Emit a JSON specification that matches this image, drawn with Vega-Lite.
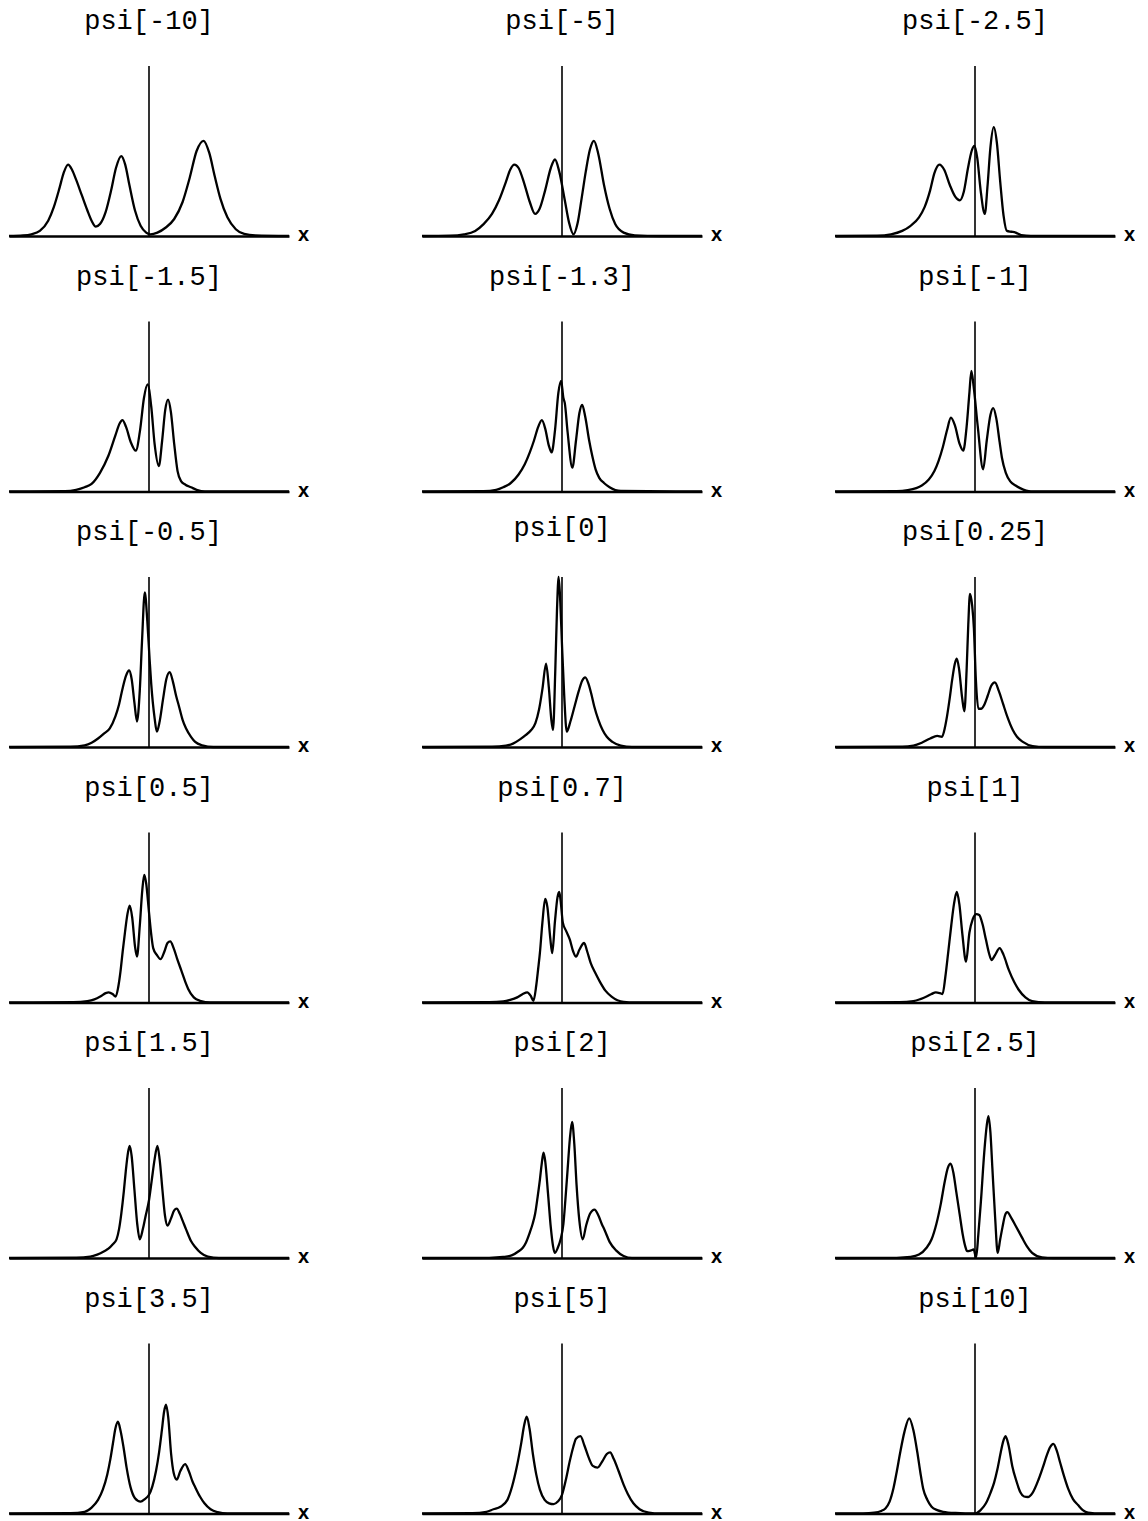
{
"$schema": "https://vega.github.io/schema/vega-lite/v6.json",
"padding": {"left": 4, "top": 7, "right": 0, "bottom": 0},
"background": "white",
"datasets": {
"curves": [
{"p":"psi[-10]","x":-5,"y":0},{"p":"psi[-10]","x":-4.5,"y":0.003},{"p":"psi[-10]","x":-4.2,"y":0.01},{"p":"psi[-10]","x":-3.9,"y":0.03},{"p":"psi[-10]","x":-3.6,"y":0.09},{"p":"psi[-10]","x":-3.4,"y":0.17},{"p":"psi[-10]","x":-3.2,"y":0.28},{"p":"psi[-10]","x":-3.05,"y":0.37},{"p":"psi[-10]","x":-2.89,"y":0.42},{"p":"psi[-10]","x":-2.75,"y":0.39},{"p":"psi[-10]","x":-2.6,"y":0.33},{"p":"psi[-10]","x":-2.4,"y":0.24},{"p":"psi[-10]","x":-2.2,"y":0.15},{"p":"psi[-10]","x":-2.05,"y":0.09},{"p":"psi[-10]","x":-1.9,"y":0.055},{"p":"psi[-10]","x":-1.75,"y":0.07},{"p":"psi[-10]","x":-1.55,"y":0.14},{"p":"psi[-10]","x":-1.35,"y":0.27},{"p":"psi[-10]","x":-1.18,"y":0.40},{"p":"psi[-10]","x":-0.99,"y":0.47},{"p":"psi[-10]","x":-0.85,"y":0.42},{"p":"psi[-10]","x":-0.7,"y":0.30},{"p":"psi[-10]","x":-0.5,"y":0.15},{"p":"psi[-10]","x":-0.3,"y":0.06},{"p":"psi[-10]","x":-0.1,"y":0.02},{"p":"psi[-10]","x":0.05,"y":0.01},{"p":"psi[-10]","x":0.3,"y":0.02},{"p":"psi[-10]","x":0.6,"y":0.05},{"p":"psi[-10]","x":0.9,"y":0.1},{"p":"psi[-10]","x":1.2,"y":0.2},{"p":"psi[-10]","x":1.45,"y":0.34},{"p":"psi[-10]","x":1.7,"y":0.5},{"p":"psi[-10]","x":1.95,"y":0.56},{"p":"psi[-10]","x":2.15,"y":0.49},{"p":"psi[-10]","x":2.35,"y":0.35},{"p":"psi[-10]","x":2.55,"y":0.22},{"p":"psi[-10]","x":2.8,"y":0.11},{"p":"psi[-10]","x":3.1,"y":0.04},{"p":"psi[-10]","x":3.4,"y":0.012},{"p":"psi[-10]","x":3.8,"y":0.003},{"p":"psi[-10]","x":5,"y":0},
{"p":"psi[-5]","x":-5,"y":0},{"p":"psi[-5]","x":-4,"y":0.002},{"p":"psi[-5]","x":-3.5,"y":0.01},{"p":"psi[-5]","x":-3.1,"y":0.03},{"p":"psi[-5]","x":-2.8,"y":0.07},{"p":"psi[-5]","x":-2.5,"y":0.13},{"p":"psi[-5]","x":-2.25,"y":0.21},{"p":"psi[-5]","x":-2.0,"y":0.32},{"p":"psi[-5]","x":-1.85,"y":0.39},{"p":"psi[-5]","x":-1.7,"y":0.42},{"p":"psi[-5]","x":-1.55,"y":0.40},{"p":"psi[-5]","x":-1.35,"y":0.31},{"p":"psi[-5]","x":-1.15,"y":0.20},{"p":"psi[-5]","x":-0.96,"y":0.13},{"p":"psi[-5]","x":-0.8,"y":0.16},{"p":"psi[-5]","x":-0.6,"y":0.27},{"p":"psi[-5]","x":-0.4,"y":0.40},{"p":"psi[-5]","x":-0.25,"y":0.45},{"p":"psi[-5]","x":-0.1,"y":0.38},{"p":"psi[-5]","x":0.1,"y":0.21},{"p":"psi[-5]","x":0.25,"y":0.08},{"p":"psi[-5]","x":0.41,"y":0.01},{"p":"psi[-5]","x":0.55,"y":0.07},{"p":"psi[-5]","x":0.7,"y":0.22},{"p":"psi[-5]","x":0.85,"y":0.38},{"p":"psi[-5]","x":1.0,"y":0.51},{"p":"psi[-5]","x":1.14,"y":0.56},{"p":"psi[-5]","x":1.3,"y":0.48},{"p":"psi[-5]","x":1.5,"y":0.30},{"p":"psi[-5]","x":1.7,"y":0.16},{"p":"psi[-5]","x":1.9,"y":0.07},{"p":"psi[-5]","x":2.2,"y":0.02},{"p":"psi[-5]","x":2.6,"y":0.004},{"p":"psi[-5]","x":3.5,"y":0},{"p":"psi[-5]","x":5,"y":0},
{"p":"psi[-2.5]","x":-5,"y":0},{"p":"psi[-2.5]","x":-3.5,"y":0.002},{"p":"psi[-2.5]","x":-3.0,"y":0.01},{"p":"psi[-2.5]","x":-2.6,"y":0.03},{"p":"psi[-2.5]","x":-2.3,"y":0.06},{"p":"psi[-2.5]","x":-2.0,"y":0.11},{"p":"psi[-2.5]","x":-1.8,"y":0.17},{"p":"psi[-2.5]","x":-1.6,"y":0.27},{"p":"psi[-2.5]","x":-1.45,"y":0.37},{"p":"psi[-2.5]","x":-1.27,"y":0.42},{"p":"psi[-2.5]","x":-1.1,"y":0.39},{"p":"psi[-2.5]","x":-0.9,"y":0.30},{"p":"psi[-2.5]","x":-0.7,"y":0.23},{"p":"psi[-2.5]","x":-0.54,"y":0.21},{"p":"psi[-2.5]","x":-0.4,"y":0.26},{"p":"psi[-2.5]","x":-0.25,"y":0.40},{"p":"psi[-2.5]","x":-0.12,"y":0.50},{"p":"psi[-2.5]","x":-0.02,"y":0.53},{"p":"psi[-2.5]","x":0.08,"y":0.46},{"p":"psi[-2.5]","x":0.2,"y":0.27},{"p":"psi[-2.5]","x":0.35,"y":0.13},{"p":"psi[-2.5]","x":0.45,"y":0.30},{"p":"psi[-2.5]","x":0.55,"y":0.52},{"p":"psi[-2.5]","x":0.67,"y":0.64},{"p":"psi[-2.5]","x":0.78,"y":0.55},{"p":"psi[-2.5]","x":0.9,"y":0.32},{"p":"psi[-2.5]","x":1.02,"y":0.12},{"p":"psi[-2.5]","x":1.14,"y":0.03},{"p":"psi[-2.5]","x":1.3,"y":0.025},{"p":"psi[-2.5]","x":1.45,"y":0.02},{"p":"psi[-2.5]","x":1.65,"y":0.005},{"p":"psi[-2.5]","x":2.0,"y":0},{"p":"psi[-2.5]","x":5,"y":0},
{"p":"psi[-1.5]","x":-5,"y":0},{"p":"psi[-1.5]","x":-3,"y":0.002},{"p":"psi[-1.5]","x":-2.6,"y":0.01},{"p":"psi[-1.5]","x":-2.3,"y":0.025},{"p":"psi[-1.5]","x":-2.05,"y":0.045},{"p":"psi[-1.5]","x":-1.75,"y":0.11},{"p":"psi[-1.5]","x":-1.45,"y":0.21},{"p":"psi[-1.5]","x":-1.2,"y":0.33},{"p":"psi[-1.5]","x":-1.05,"y":0.40},{"p":"psi[-1.5]","x":-0.95,"y":0.42},{"p":"psi[-1.5]","x":-0.82,"y":0.38},{"p":"psi[-1.5]","x":-0.65,"y":0.29},{"p":"psi[-1.5]","x":-0.47,"y":0.24},{"p":"psi[-1.5]","x":-0.32,"y":0.36},{"p":"psi[-1.5]","x":-0.18,"y":0.55},{"p":"psi[-1.5]","x":-0.05,"y":0.63},{"p":"psi[-1.5]","x":0.08,"y":0.50},{"p":"psi[-1.5]","x":0.2,"y":0.28},{"p":"psi[-1.5]","x":0.35,"y":0.15},{"p":"psi[-1.5]","x":0.47,"y":0.30},{"p":"psi[-1.5]","x":0.58,"y":0.48},{"p":"psi[-1.5]","x":0.68,"y":0.54},{"p":"psi[-1.5]","x":0.78,"y":0.47},{"p":"psi[-1.5]","x":0.9,"y":0.28},{"p":"psi[-1.5]","x":1.02,"y":0.12},{"p":"psi[-1.5]","x":1.15,"y":0.06},{"p":"psi[-1.5]","x":1.3,"y":0.04},{"p":"psi[-1.5]","x":1.5,"y":0.025},{"p":"psi[-1.5]","x":1.7,"y":0.01},{"p":"psi[-1.5]","x":2.0,"y":0},{"p":"psi[-1.5]","x":5,"y":0},
{"p":"psi[-1.3]","x":-5,"y":0},{"p":"psi[-1.3]","x":-2.8,"y":0.002},{"p":"psi[-1.3]","x":-2.35,"y":0.01},{"p":"psi[-1.3]","x":-2.1,"y":0.025},{"p":"psi[-1.3]","x":-1.83,"y":0.05},{"p":"psi[-1.3]","x":-1.55,"y":0.1},{"p":"psi[-1.3]","x":-1.33,"y":0.16},{"p":"psi[-1.3]","x":-1.15,"y":0.23},{"p":"psi[-1.3]","x":-1.0,"y":0.30},{"p":"psi[-1.3]","x":-0.85,"y":0.38},{"p":"psi[-1.3]","x":-0.72,"y":0.42},{"p":"psi[-1.3]","x":-0.6,"y":0.37},{"p":"psi[-1.3]","x":-0.47,"y":0.27},{"p":"psi[-1.3]","x":-0.37,"y":0.23},{"p":"psi[-1.3]","x":-0.25,"y":0.36},{"p":"psi[-1.3]","x":-0.13,"y":0.58},{"p":"psi[-1.3]","x":-0.03,"y":0.65},{"p":"psi[-1.3]","x":0.05,"y":0.55},{"p":"psi[-1.3]","x":0.1,"y":0.52},{"p":"psi[-1.3]","x":0.2,"y":0.35},{"p":"psi[-1.3]","x":0.37,"y":0.14},{"p":"psi[-1.3]","x":0.5,"y":0.30},{"p":"psi[-1.3]","x":0.62,"y":0.46},{"p":"psi[-1.3]","x":0.72,"y":0.51},{"p":"psi[-1.3]","x":0.83,"y":0.44},{"p":"psi[-1.3]","x":0.97,"y":0.30},{"p":"psi[-1.3]","x":1.08,"y":0.21},{"p":"psi[-1.3]","x":1.2,"y":0.13},{"p":"psi[-1.3]","x":1.33,"y":0.08},{"p":"psi[-1.3]","x":1.5,"y":0.05},{"p":"psi[-1.3]","x":1.7,"y":0.025},{"p":"psi[-1.3]","x":2.1,"y":0.003},{"p":"psi[-1.3]","x":5,"y":0},
{"p":"psi[-1]","x":-5,"y":0},{"p":"psi[-1]","x":-2.8,"y":0.002},{"p":"psi[-1]","x":-2.4,"y":0.008},{"p":"psi[-1]","x":-2.1,"y":0.02},{"p":"psi[-1]","x":-1.9,"y":0.035},{"p":"psi[-1]","x":-1.65,"y":0.07},{"p":"psi[-1]","x":-1.45,"y":0.12},{"p":"psi[-1]","x":-1.3,"y":0.18},{"p":"psi[-1]","x":-1.15,"y":0.26},{"p":"psi[-1]","x":-1.0,"y":0.36},{"p":"psi[-1]","x":-0.86,"y":0.435},{"p":"psi[-1]","x":-0.72,"y":0.39},{"p":"psi[-1]","x":-0.55,"y":0.28},{"p":"psi[-1]","x":-0.42,"y":0.24},{"p":"psi[-1]","x":-0.3,"y":0.38},{"p":"psi[-1]","x":-0.2,"y":0.58},{"p":"psi[-1]","x":-0.13,"y":0.71},{"p":"psi[-1]","x":-0.05,"y":0.62},{"p":"psi[-1]","x":0.1,"y":0.38},{"p":"psi[-1]","x":0.29,"y":0.13},{"p":"psi[-1]","x":0.42,"y":0.30},{"p":"psi[-1]","x":0.55,"y":0.45},{"p":"psi[-1]","x":0.65,"y":0.49},{"p":"psi[-1]","x":0.76,"y":0.43},{"p":"psi[-1]","x":0.88,"y":0.29},{"p":"psi[-1]","x":0.96,"y":0.2},{"p":"psi[-1]","x":1.1,"y":0.11},{"p":"psi[-1]","x":1.26,"y":0.06},{"p":"psi[-1]","x":1.45,"y":0.035},{"p":"psi[-1]","x":1.61,"y":0.02},{"p":"psi[-1]","x":2.0,"y":0},{"p":"psi[-1]","x":5,"y":0},
{"p":"psi[-0.5]","x":-5,"y":0},{"p":"psi[-0.5]","x":-2.8,"y":0.002},{"p":"psi[-0.5]","x":-2.3,"y":0.01},{"p":"psi[-0.5]","x":-2.05,"y":0.025},{"p":"psi[-0.5]","x":-1.82,"y":0.05},{"p":"psi[-0.5]","x":-1.6,"y":0.08},{"p":"psi[-0.5]","x":-1.4,"y":0.11},{"p":"psi[-0.5]","x":-1.2,"y":0.18},{"p":"psi[-0.5]","x":-1.07,"y":0.25},{"p":"psi[-0.5]","x":-0.95,"y":0.34},{"p":"psi[-0.5]","x":-0.82,"y":0.42},{"p":"psi[-0.5]","x":-0.71,"y":0.45},{"p":"psi[-0.5]","x":-0.62,"y":0.40},{"p":"psi[-0.5]","x":-0.52,"y":0.26},{"p":"psi[-0.5]","x":-0.43,"y":0.15},{"p":"psi[-0.5]","x":-0.33,"y":0.33},{"p":"psi[-0.5]","x":-0.25,"y":0.62},{"p":"psi[-0.5]","x":-0.15,"y":0.91},{"p":"psi[-0.5]","x":-0.06,"y":0.74},{"p":"psi[-0.5]","x":0.02,"y":0.52},{"p":"psi[-0.5]","x":0.08,"y":0.37},{"p":"psi[-0.5]","x":0.2,"y":0.17},{"p":"psi[-0.5]","x":0.28,"y":0.09},{"p":"psi[-0.5]","x":0.38,"y":0.15},{"p":"psi[-0.5]","x":0.5,"y":0.28},{"p":"psi[-0.5]","x":0.62,"y":0.40},{"p":"psi[-0.5]","x":0.74,"y":0.44},{"p":"psi[-0.5]","x":0.86,"y":0.38},{"p":"psi[-0.5]","x":0.97,"y":0.30},{"p":"psi[-0.5]","x":1.07,"y":0.24},{"p":"psi[-0.5]","x":1.2,"y":0.16},{"p":"psi[-0.5]","x":1.32,"y":0.11},{"p":"psi[-0.5]","x":1.5,"y":0.06},{"p":"psi[-0.5]","x":1.65,"y":0.03},{"p":"psi[-0.5]","x":1.9,"y":0.01},{"p":"psi[-0.5]","x":2.3,"y":0},{"p":"psi[-0.5]","x":5,"y":0},
{"p":"psi[0]","x":-5,"y":0},{"p":"psi[0]","x":-2.5,"y":0.002},{"p":"psi[0]","x":-2.0,"y":0.008},{"p":"psi[0]","x":-1.75,"y":0.02},{"p":"psi[0]","x":-1.5,"y":0.045},{"p":"psi[0]","x":-1.3,"y":0.07},{"p":"psi[0]","x":-1.1,"y":0.1},{"p":"psi[0]","x":-0.95,"y":0.14},{"p":"psi[0]","x":-0.82,"y":0.22},{"p":"psi[0]","x":-0.7,"y":0.34},{"p":"psi[0]","x":-0.57,"y":0.49},{"p":"psi[0]","x":-0.47,"y":0.35},{"p":"psi[0]","x":-0.38,"y":0.16},{"p":"psi[0]","x":-0.32,"y":0.10},{"p":"psi[0]","x":-0.24,"y":0.45},{"p":"psi[0]","x":-0.18,"y":0.8},{"p":"psi[0]","x":-0.12,"y":1.0},{"p":"psi[0]","x":-0.06,"y":0.85},{"p":"psi[0]","x":0.0,"y":0.6},{"p":"psi[0]","x":0.08,"y":0.3},{"p":"psi[0]","x":0.17,"y":0.09},{"p":"psi[0]","x":0.3,"y":0.15},{"p":"psi[0]","x":0.45,"y":0.24},{"p":"psi[0]","x":0.6,"y":0.33},{"p":"psi[0]","x":0.72,"y":0.39},{"p":"psi[0]","x":0.83,"y":0.41},{"p":"psi[0]","x":0.95,"y":0.37},{"p":"psi[0]","x":1.05,"y":0.31},{"p":"psi[0]","x":1.15,"y":0.24},{"p":"psi[0]","x":1.3,"y":0.16},{"p":"psi[0]","x":1.45,"y":0.1},{"p":"psi[0]","x":1.6,"y":0.06},{"p":"psi[0]","x":1.8,"y":0.03},{"p":"psi[0]","x":2.1,"y":0.008},{"p":"psi[0]","x":2.5,"y":0},{"p":"psi[0]","x":5,"y":0},
{"p":"psi[0.25]","x":-5,"y":0},{"p":"psi[0.25]","x":-2.6,"y":0.002},{"p":"psi[0.25]","x":-2.2,"y":0.008},{"p":"psi[0.25]","x":-1.9,"y":0.025},{"p":"psi[0.25]","x":-1.6,"y":0.05},{"p":"psi[0.25]","x":-1.35,"y":0.065},{"p":"psi[0.25]","x":-1.18,"y":0.06},{"p":"psi[0.25]","x":-1.08,"y":0.11},{"p":"psi[0.25]","x":-1.0,"y":0.18},{"p":"psi[0.25]","x":-0.9,"y":0.29},{"p":"psi[0.25]","x":-0.82,"y":0.39},{"p":"psi[0.25]","x":-0.72,"y":0.49},{"p":"psi[0.25]","x":-0.65,"y":0.52},{"p":"psi[0.25]","x":-0.57,"y":0.46},{"p":"psi[0.25]","x":-0.46,"y":0.29},{"p":"psi[0.25]","x":-0.38,"y":0.21},{"p":"psi[0.25]","x":-0.3,"y":0.45},{"p":"psi[0.25]","x":-0.24,"y":0.72},{"p":"psi[0.25]","x":-0.18,"y":0.90},{"p":"psi[0.25]","x":-0.1,"y":0.83},{"p":"psi[0.25]","x":-0.04,"y":0.7},{"p":"psi[0.25]","x":0.03,"y":0.4},{"p":"psi[0.25]","x":0.12,"y":0.225},{"p":"psi[0.25]","x":0.22,"y":0.225},{"p":"psi[0.25]","x":0.32,"y":0.245},{"p":"psi[0.25]","x":0.45,"y":0.3},{"p":"psi[0.25]","x":0.58,"y":0.36},{"p":"psi[0.25]","x":0.71,"y":0.38},{"p":"psi[0.25]","x":0.85,"y":0.33},{"p":"psi[0.25]","x":1.0,"y":0.255},{"p":"psi[0.25]","x":1.15,"y":0.18},{"p":"psi[0.25]","x":1.35,"y":0.1},{"p":"psi[0.25]","x":1.5,"y":0.06},{"p":"psi[0.25]","x":1.71,"y":0.03},{"p":"psi[0.25]","x":2.06,"y":0.005},{"p":"psi[0.25]","x":2.5,"y":0},{"p":"psi[0.25]","x":5,"y":0},
{"p":"psi[0.5]","x":-5,"y":0},{"p":"psi[0.5]","x":-2.7,"y":0.002},{"p":"psi[0.5]","x":-2.2,"y":0.008},{"p":"psi[0.5]","x":-1.95,"y":0.018},{"p":"psi[0.5]","x":-1.74,"y":0.035},{"p":"psi[0.5]","x":-1.55,"y":0.055},{"p":"psi[0.5]","x":-1.44,"y":0.06},{"p":"psi[0.5]","x":-1.3,"y":0.05},{"p":"psi[0.5]","x":-1.19,"y":0.035},{"p":"psi[0.5]","x":-1.1,"y":0.09},{"p":"psi[0.5]","x":-1.02,"y":0.18},{"p":"psi[0.5]","x":-0.94,"y":0.3},{"p":"psi[0.5]","x":-0.86,"y":0.41},{"p":"psi[0.5]","x":-0.77,"y":0.52},{"p":"psi[0.5]","x":-0.69,"y":0.57},{"p":"psi[0.5]","x":-0.6,"y":0.50},{"p":"psi[0.5]","x":-0.5,"y":0.33},{"p":"psi[0.5]","x":-0.43,"y":0.27},{"p":"psi[0.5]","x":-0.33,"y":0.45},{"p":"psi[0.5]","x":-0.24,"y":0.66},{"p":"psi[0.5]","x":-0.17,"y":0.75},{"p":"psi[0.5]","x":-0.1,"y":0.70},{"p":"psi[0.5]","x":0.0,"y":0.53},{"p":"psi[0.5]","x":0.08,"y":0.40},{"p":"psi[0.5]","x":0.15,"y":0.32},{"p":"psi[0.5]","x":0.28,"y":0.28},{"p":"psi[0.5]","x":0.41,"y":0.255},{"p":"psi[0.5]","x":0.55,"y":0.30},{"p":"psi[0.5]","x":0.66,"y":0.35},{"p":"psi[0.5]","x":0.76,"y":0.36},{"p":"psi[0.5]","x":0.88,"y":0.32},{"p":"psi[0.5]","x":1.0,"y":0.26},{"p":"psi[0.5]","x":1.15,"y":0.19},{"p":"psi[0.5]","x":1.3,"y":0.12},{"p":"psi[0.5]","x":1.4,"y":0.08},{"p":"psi[0.5]","x":1.6,"y":0.03},{"p":"psi[0.5]","x":1.82,"y":0.01},{"p":"psi[0.5]","x":2.2,"y":0},{"p":"psi[0.5]","x":5,"y":0},
{"p":"psi[0.7]","x":-5,"y":0},{"p":"psi[0.7]","x":-2.6,"y":0.002},{"p":"psi[0.7]","x":-2.1,"y":0.006},{"p":"psi[0.7]","x":-1.85,"y":0.015},{"p":"psi[0.7]","x":-1.6,"y":0.03},{"p":"psi[0.7]","x":-1.4,"y":0.05},{"p":"psi[0.7]","x":-1.24,"y":0.06},{"p":"psi[0.7]","x":-1.12,"y":0.04},{"p":"psi[0.7]","x":-1.02,"y":0.01},{"p":"psi[0.7]","x":-0.92,"y":0.1},{"p":"psi[0.7]","x":-0.85,"y":0.2},{"p":"psi[0.7]","x":-0.79,"y":0.29},{"p":"psi[0.7]","x":-0.7,"y":0.47},{"p":"psi[0.7]","x":-0.6,"y":0.61},{"p":"psi[0.7]","x":-0.52,"y":0.56},{"p":"psi[0.7]","x":-0.42,"y":0.38},{"p":"psi[0.7]","x":-0.35,"y":0.29},{"p":"psi[0.7]","x":-0.25,"y":0.48},{"p":"psi[0.7]","x":-0.16,"y":0.62},{"p":"psi[0.7]","x":-0.1,"y":0.65},{"p":"psi[0.7]","x":-0.05,"y":0.60},{"p":"psi[0.7]","x":0.03,"y":0.47},{"p":"psi[0.7]","x":0.15,"y":0.42},{"p":"psi[0.7]","x":0.28,"y":0.37},{"p":"psi[0.7]","x":0.4,"y":0.30},{"p":"psi[0.7]","x":0.5,"y":0.27},{"p":"psi[0.7]","x":0.62,"y":0.31},{"p":"psi[0.7]","x":0.79,"y":0.35},{"p":"psi[0.7]","x":0.9,"y":0.30},{"p":"psi[0.7]","x":1.02,"y":0.235},{"p":"psi[0.7]","x":1.2,"y":0.17},{"p":"psi[0.7]","x":1.36,"y":0.12},{"p":"psi[0.7]","x":1.55,"y":0.07},{"p":"psi[0.7]","x":1.77,"y":0.035},{"p":"psi[0.7]","x":2.2,"y":0.004},{"p":"psi[0.7]","x":2.6,"y":0},{"p":"psi[0.7]","x":5,"y":0},
{"p":"psi[1]","x":-5,"y":0},{"p":"psi[1]","x":-2.7,"y":0.002},{"p":"psi[1]","x":-2.2,"y":0.008},{"p":"psi[1]","x":-1.95,"y":0.02},{"p":"psi[1]","x":-1.73,"y":0.035},{"p":"psi[1]","x":-1.55,"y":0.05},{"p":"psi[1]","x":-1.4,"y":0.06},{"p":"psi[1]","x":-1.25,"y":0.055},{"p":"psi[1]","x":-1.16,"y":0.05},{"p":"psi[1]","x":-1.06,"y":0.15},{"p":"psi[1]","x":-0.96,"y":0.29},{"p":"psi[1]","x":-0.85,"y":0.45},{"p":"psi[1]","x":-0.75,"y":0.58},{"p":"psi[1]","x":-0.65,"y":0.65},{"p":"psi[1]","x":-0.56,"y":0.58},{"p":"psi[1]","x":-0.45,"y":0.40},{"p":"psi[1]","x":-0.32,"y":0.24},{"p":"psi[1]","x":-0.2,"y":0.41},{"p":"psi[1]","x":-0.08,"y":0.49},{"p":"psi[1]","x":0.05,"y":0.52},{"p":"psi[1]","x":0.15,"y":0.515},{"p":"psi[1]","x":0.27,"y":0.46},{"p":"psi[1]","x":0.39,"y":0.37},{"p":"psi[1]","x":0.5,"y":0.29},{"p":"psi[1]","x":0.59,"y":0.25},{"p":"psi[1]","x":0.72,"y":0.28},{"p":"psi[1]","x":0.88,"y":0.32},{"p":"psi[1]","x":1.02,"y":0.28},{"p":"psi[1]","x":1.21,"y":0.19},{"p":"psi[1]","x":1.4,"y":0.12},{"p":"psi[1]","x":1.56,"y":0.075},{"p":"psi[1]","x":1.8,"y":0.03},{"p":"psi[1]","x":2.04,"y":0.008},{"p":"psi[1]","x":2.5,"y":0},{"p":"psi[1]","x":5,"y":0},
{"p":"psi[1.5]","x":-5,"y":0},{"p":"psi[1.5]","x":-2.6,"y":0.002},{"p":"psi[1.5]","x":-2.1,"y":0.008},{"p":"psi[1.5]","x":-1.85,"y":0.02},{"p":"psi[1.5]","x":-1.6,"y":0.04},{"p":"psi[1.5]","x":-1.45,"y":0.055},{"p":"psi[1.5]","x":-1.3,"y":0.08},{"p":"psi[1.5]","x":-1.16,"y":0.11},{"p":"psi[1.5]","x":-1.07,"y":0.17},{"p":"psi[1.5]","x":-0.99,"y":0.26},{"p":"psi[1.5]","x":-0.9,"y":0.39},{"p":"psi[1.5]","x":-0.83,"y":0.51},{"p":"psi[1.5]","x":-0.75,"y":0.62},{"p":"psi[1.5]","x":-0.69,"y":0.66},{"p":"psi[1.5]","x":-0.62,"y":0.60},{"p":"psi[1.5]","x":-0.52,"y":0.40},{"p":"psi[1.5]","x":-0.42,"y":0.20},{"p":"psi[1.5]","x":-0.33,"y":0.11},{"p":"psi[1.5]","x":-0.22,"y":0.17},{"p":"psi[1.5]","x":-0.13,"y":0.24},{"p":"psi[1.5]","x":0.0,"y":0.34},{"p":"psi[1.5]","x":0.1,"y":0.46},{"p":"psi[1.5]","x":0.2,"y":0.58},{"p":"psi[1.5]","x":0.3,"y":0.66},{"p":"psi[1.5]","x":0.38,"y":0.58},{"p":"psi[1.5]","x":0.48,"y":0.40},{"p":"psi[1.5]","x":0.57,"y":0.25},{"p":"psi[1.5]","x":0.66,"y":0.19},{"p":"psi[1.5]","x":0.78,"y":0.23},{"p":"psi[1.5]","x":0.9,"y":0.28},{"p":"psi[1.5]","x":0.99,"y":0.29},{"p":"psi[1.5]","x":1.1,"y":0.26},{"p":"psi[1.5]","x":1.2,"y":0.22},{"p":"psi[1.5]","x":1.32,"y":0.17},{"p":"psi[1.5]","x":1.5,"y":0.1},{"p":"psi[1.5]","x":1.65,"y":0.065},{"p":"psi[1.5]","x":1.85,"y":0.03},{"p":"psi[1.5]","x":2.1,"y":0.008},{"p":"psi[1.5]","x":2.5,"y":0},{"p":"psi[1.5]","x":5,"y":0},
{"p":"psi[2]","x":-5,"y":0},{"p":"psi[2]","x":-2.6,"y":0.001},{"p":"psi[2]","x":-2.1,"y":0.006},{"p":"psi[2]","x":-1.8,"y":0.015},{"p":"psi[2]","x":-1.55,"y":0.04},{"p":"psi[2]","x":-1.4,"y":0.06},{"p":"psi[2]","x":-1.29,"y":0.09},{"p":"psi[2]","x":-1.15,"y":0.15},{"p":"psi[2]","x":-1.05,"y":0.2},{"p":"psi[2]","x":-0.96,"y":0.26},{"p":"psi[2]","x":-0.87,"y":0.36},{"p":"psi[2]","x":-0.79,"y":0.46},{"p":"psi[2]","x":-0.72,"y":0.56},{"p":"psi[2]","x":-0.66,"y":0.62},{"p":"psi[2]","x":-0.6,"y":0.57},{"p":"psi[2]","x":-0.5,"y":0.38},{"p":"psi[2]","x":-0.4,"y":0.18},{"p":"psi[2]","x":-0.32,"y":0.07},{"p":"psi[2]","x":-0.26,"y":0.03},{"p":"psi[2]","x":-0.15,"y":0.06},{"p":"psi[2]","x":-0.05,"y":0.11},{"p":"psi[2]","x":0.05,"y":0.2},{"p":"psi[2]","x":0.12,"y":0.34},{"p":"psi[2]","x":0.2,"y":0.52},{"p":"psi[2]","x":0.28,"y":0.70},{"p":"psi[2]","x":0.36,"y":0.80},{"p":"psi[2]","x":0.44,"y":0.67},{"p":"psi[2]","x":0.52,"y":0.43},{"p":"psi[2]","x":0.62,"y":0.22},{"p":"psi[2]","x":0.74,"y":0.11},{"p":"psi[2]","x":0.86,"y":0.19},{"p":"psi[2]","x":1.0,"y":0.26},{"p":"psi[2]","x":1.16,"y":0.285},{"p":"psi[2]","x":1.3,"y":0.25},{"p":"psi[2]","x":1.42,"y":0.2},{"p":"psi[2]","x":1.52,"y":0.165},{"p":"psi[2]","x":1.7,"y":0.095},{"p":"psi[2]","x":1.93,"y":0.045},{"p":"psi[2]","x":2.2,"y":0.012},{"p":"psi[2]","x":2.5,"y":0},{"p":"psi[2]","x":5,"y":0},
{"p":"psi[2.5]","x":-5,"y":0},{"p":"psi[2.5]","x":-2.8,"y":0.001},{"p":"psi[2.5]","x":-2.3,"y":0.006},{"p":"psi[2.5]","x":-2.0,"y":0.02},{"p":"psi[2.5]","x":-1.73,"y":0.06},{"p":"psi[2.5]","x":-1.55,"y":0.11},{"p":"psi[2.5]","x":-1.38,"y":0.2},{"p":"psi[2.5]","x":-1.22,"y":0.32},{"p":"psi[2.5]","x":-1.08,"y":0.45},{"p":"psi[2.5]","x":-0.97,"y":0.53},{"p":"psi[2.5]","x":-0.87,"y":0.555},{"p":"psi[2.5]","x":-0.77,"y":0.50},{"p":"psi[2.5]","x":-0.67,"y":0.39},{"p":"psi[2.5]","x":-0.55,"y":0.26},{"p":"psi[2.5]","x":-0.44,"y":0.14},{"p":"psi[2.5]","x":-0.35,"y":0.07},{"p":"psi[2.5]","x":-0.28,"y":0.04},{"p":"psi[2.5]","x":-0.14,"y":0.045},{"p":"psi[2.5]","x":-0.05,"y":0.05},{"p":"psi[2.5]","x":0.04,"y":0.004},{"p":"psi[2.5]","x":0.12,"y":0.14},{"p":"psi[2.5]","x":0.21,"y":0.33},{"p":"psi[2.5]","x":0.33,"y":0.62},{"p":"psi[2.5]","x":0.42,"y":0.78},{"p":"psi[2.5]","x":0.48,"y":0.835},{"p":"psi[2.5]","x":0.55,"y":0.74},{"p":"psi[2.5]","x":0.62,"y":0.53},{"p":"psi[2.5]","x":0.72,"y":0.235},{"p":"psi[2.5]","x":0.81,"y":0.03},{"p":"psi[2.5]","x":0.9,"y":0.11},{"p":"psi[2.5]","x":0.98,"y":0.18},{"p":"psi[2.5]","x":1.07,"y":0.25},{"p":"psi[2.5]","x":1.15,"y":0.27},{"p":"psi[2.5]","x":1.3,"y":0.235},{"p":"psi[2.5]","x":1.45,"y":0.19},{"p":"psi[2.5]","x":1.68,"y":0.12},{"p":"psi[2.5]","x":1.85,"y":0.07},{"p":"psi[2.5]","x":2.04,"y":0.03},{"p":"psi[2.5]","x":2.39,"y":0.004},{"p":"psi[2.5]","x":2.8,"y":0},{"p":"psi[2.5]","x":5,"y":0},
{"p":"psi[3.5]","x":-5,"y":0},{"p":"psi[3.5]","x":-2.8,"y":0.002},{"p":"psi[3.5]","x":-2.3,"y":0.01},{"p":"psi[3.5]","x":-2.05,"y":0.035},{"p":"psi[3.5]","x":-1.82,"y":0.08},{"p":"psi[3.5]","x":-1.65,"y":0.14},{"p":"psi[3.5]","x":-1.49,"y":0.23},{"p":"psi[3.5]","x":-1.38,"y":0.32},{"p":"psi[3.5]","x":-1.29,"y":0.41},{"p":"psi[3.5]","x":-1.2,"y":0.5},{"p":"psi[3.5]","x":-1.11,"y":0.54},{"p":"psi[3.5]","x":-1.02,"y":0.49},{"p":"psi[3.5]","x":-0.91,"y":0.39},{"p":"psi[3.5]","x":-0.8,"y":0.27},{"p":"psi[3.5]","x":-0.66,"y":0.155},{"p":"psi[3.5]","x":-0.5,"y":0.09},{"p":"psi[3.5]","x":-0.3,"y":0.07},{"p":"psi[3.5]","x":-0.15,"y":0.085},{"p":"psi[3.5]","x":0.0,"y":0.11},{"p":"psi[3.5]","x":0.12,"y":0.16},{"p":"psi[3.5]","x":0.25,"y":0.25},{"p":"psi[3.5]","x":0.36,"y":0.36},{"p":"psi[3.5]","x":0.46,"y":0.49},{"p":"psi[3.5]","x":0.54,"y":0.6},{"p":"psi[3.5]","x":0.61,"y":0.64},{"p":"psi[3.5]","x":0.69,"y":0.56},{"p":"psi[3.5]","x":0.79,"y":0.35},{"p":"psi[3.5]","x":0.88,"y":0.24},{"p":"psi[3.5]","x":0.99,"y":0.2},{"p":"psi[3.5]","x":1.12,"y":0.25},{"p":"psi[3.5]","x":1.29,"y":0.29},{"p":"psi[3.5]","x":1.42,"y":0.25},{"p":"psi[3.5]","x":1.55,"y":0.19},{"p":"psi[3.5]","x":1.65,"y":0.155},{"p":"psi[3.5]","x":1.82,"y":0.1},{"p":"psi[3.5]","x":1.98,"y":0.06},{"p":"psi[3.5]","x":2.2,"y":0.025},{"p":"psi[3.5]","x":2.45,"y":0.008},{"p":"psi[3.5]","x":2.8,"y":0},{"p":"psi[3.5]","x":5,"y":0},
{"p":"psi[5]","x":-5,"y":0},{"p":"psi[5]","x":-3.2,"y":0.002},{"p":"psi[5]","x":-2.7,"y":0.01},{"p":"psi[5]","x":-2.45,"y":0.025},{"p":"psi[5]","x":-2.2,"y":0.04},{"p":"psi[5]","x":-1.95,"y":0.08},{"p":"psi[5]","x":-1.78,"y":0.16},{"p":"psi[5]","x":-1.62,"y":0.27},{"p":"psi[5]","x":-1.45,"y":0.42},{"p":"psi[5]","x":-1.35,"y":0.52},{"p":"psi[5]","x":-1.26,"y":0.57},{"p":"psi[5]","x":-1.16,"y":0.50},{"p":"psi[5]","x":-1.04,"y":0.35},{"p":"psi[5]","x":-0.92,"y":0.23},{"p":"psi[5]","x":-0.79,"y":0.14},{"p":"psi[5]","x":-0.62,"y":0.08},{"p":"psi[5]","x":-0.46,"y":0.06},{"p":"psi[5]","x":-0.3,"y":0.055},{"p":"psi[5]","x":-0.15,"y":0.07},{"p":"psi[5]","x":0.0,"y":0.11},{"p":"psi[5]","x":0.14,"y":0.2},{"p":"psi[5]","x":0.28,"y":0.31},{"p":"psi[5]","x":0.4,"y":0.39},{"p":"psi[5]","x":0.5,"y":0.44},{"p":"psi[5]","x":0.66,"y":0.455},{"p":"psi[5]","x":0.8,"y":0.40},{"p":"psi[5]","x":0.95,"y":0.33},{"p":"psi[5]","x":1.1,"y":0.28},{"p":"psi[5]","x":1.27,"y":0.27},{"p":"psi[5]","x":1.45,"y":0.31},{"p":"psi[5]","x":1.6,"y":0.35},{"p":"psi[5]","x":1.72,"y":0.36},{"p":"psi[5]","x":1.85,"y":0.32},{"p":"psi[5]","x":2.02,"y":0.25},{"p":"psi[5]","x":2.2,"y":0.17},{"p":"psi[5]","x":2.35,"y":0.115},{"p":"psi[5]","x":2.55,"y":0.06},{"p":"psi[5]","x":2.77,"y":0.025},{"p":"psi[5]","x":3.1,"y":0.005},{"p":"psi[5]","x":3.5,"y":0},{"p":"psi[5]","x":5,"y":0},
{"p":"psi[10]","x":-5,"y":0},{"p":"psi[10]","x":-4.0,"y":0.001},{"p":"psi[10]","x":-3.6,"y":0.005},{"p":"psi[10]","x":-3.35,"y":0.015},{"p":"psi[10]","x":-3.2,"y":0.03},{"p":"psi[10]","x":-3.05,"y":0.07},{"p":"psi[10]","x":-2.91,"y":0.15},{"p":"psi[10]","x":-2.79,"y":0.25},{"p":"psi[10]","x":-2.67,"y":0.36},{"p":"psi[10]","x":-2.52,"y":0.48},{"p":"psi[10]","x":-2.35,"y":0.56},{"p":"psi[10]","x":-2.2,"y":0.49},{"p":"psi[10]","x":-2.06,"y":0.36},{"p":"psi[10]","x":-1.95,"y":0.24},{"p":"psi[10]","x":-1.85,"y":0.145},{"p":"psi[10]","x":-1.7,"y":0.08},{"p":"psi[10]","x":-1.55,"y":0.04},{"p":"psi[10]","x":-1.35,"y":0.02},{"p":"psi[10]","x":-1.14,"y":0.01},{"p":"psi[10]","x":-0.7,"y":0.003},{"p":"psi[10]","x":0.0,"y":0},{"p":"psi[10]","x":0.2,"y":0.02},{"p":"psi[10]","x":0.39,"y":0.06},{"p":"psi[10]","x":0.55,"y":0.12},{"p":"psi[10]","x":0.68,"y":0.18},{"p":"psi[10]","x":0.8,"y":0.26},{"p":"psi[10]","x":0.92,"y":0.36},{"p":"psi[10]","x":1.0,"y":0.42},{"p":"psi[10]","x":1.09,"y":0.455},{"p":"psi[10]","x":1.2,"y":0.40},{"p":"psi[10]","x":1.33,"y":0.28},{"p":"psi[10]","x":1.48,"y":0.19},{"p":"psi[10]","x":1.62,"y":0.125},{"p":"psi[10]","x":1.75,"y":0.1},{"p":"psi[10]","x":1.89,"y":0.097},{"p":"psi[10]","x":2.05,"y":0.12},{"p":"psi[10]","x":2.27,"y":0.2},{"p":"psi[10]","x":2.42,"y":0.27},{"p":"psi[10]","x":2.56,"y":0.34},{"p":"psi[10]","x":2.68,"y":0.39},{"p":"psi[10]","x":2.8,"y":0.41},{"p":"psi[10]","x":2.92,"y":0.37},{"p":"psi[10]","x":3.04,"y":0.3},{"p":"psi[10]","x":3.18,"y":0.22},{"p":"psi[10]","x":3.33,"y":0.145},{"p":"psi[10]","x":3.5,"y":0.085},{"p":"psi[10]","x":3.68,"y":0.05},{"p":"psi[10]","x":3.85,"y":0.02},{"p":"psi[10]","x":4.04,"y":0.005},{"p":"psi[10]","x":4.5,"y":0},{"p":"psi[10]","x":5,"y":0}
]
},
"data": {"name": "curves"},
"columns": 3,
"bounds": "flush",
"spacing": {"row": 85.5, "column": 133},
"resolve": {"axis": {"x": "independent"}},
"facet": {
  "field": "p",
  "type": "nominal",
  "sort": ["psi[-10]","psi[-5]","psi[-2.5]","psi[-1.5]","psi[-1.3]","psi[-1]","psi[-0.5]","psi[0]","psi[0.25]","psi[0.5]","psi[0.7]","psi[1]","psi[1.5]","psi[2]","psi[2.5]","psi[3.5]","psi[5]","psi[10]"],
  "header": {"title": null, "labelFont": "Liberation Mono", "labelFontSize": 27, "labelColor": "black", "labelPadding": 30}
},
"spec": {
  "width": 280,
  "height": 170,
  "layer": [
    {
      "mark": {"type": "line", "interpolate": "monotone", "color": "black", "strokeWidth": 2.3},
      "encoding": {
        "x": {"field": "x", "type": "quantitative", "scale": {"domain": [-5, 5], "nice": false, "zero": false},
              "axis": {"title": "x", "ticks": false, "labels": false, "grid": false, "domainColor": "black", "domainWidth": 2.5,
                       "titleFont": "Liberation Sans", "titleFontWeight": "bold", "titleFontSize": 20, "titleColor": "black",
                       "titleX": 294, "titleY": -1.5, "titleBaseline": "middle", "titleAlign": "center", "titleAngle": 0}},
        "y": {"field": "y", "type": "quantitative", "scale": {"domain": [0, 1], "nice": false}, "axis": null}
      }
    },
    {
      "transform": [{"aggregate": [{"op": "count", "as": "n"}], "groupby": ["p"]}],
      "mark": {"type": "rule", "color": "black", "strokeWidth": 1.6},
      "encoding": {
        "x": {"datum": 0},
        "y": {"datum": 1},
        "y2": {"datum": 0}
      }
    }
  ]
},
"config": {"view": {"stroke": null}}
}
